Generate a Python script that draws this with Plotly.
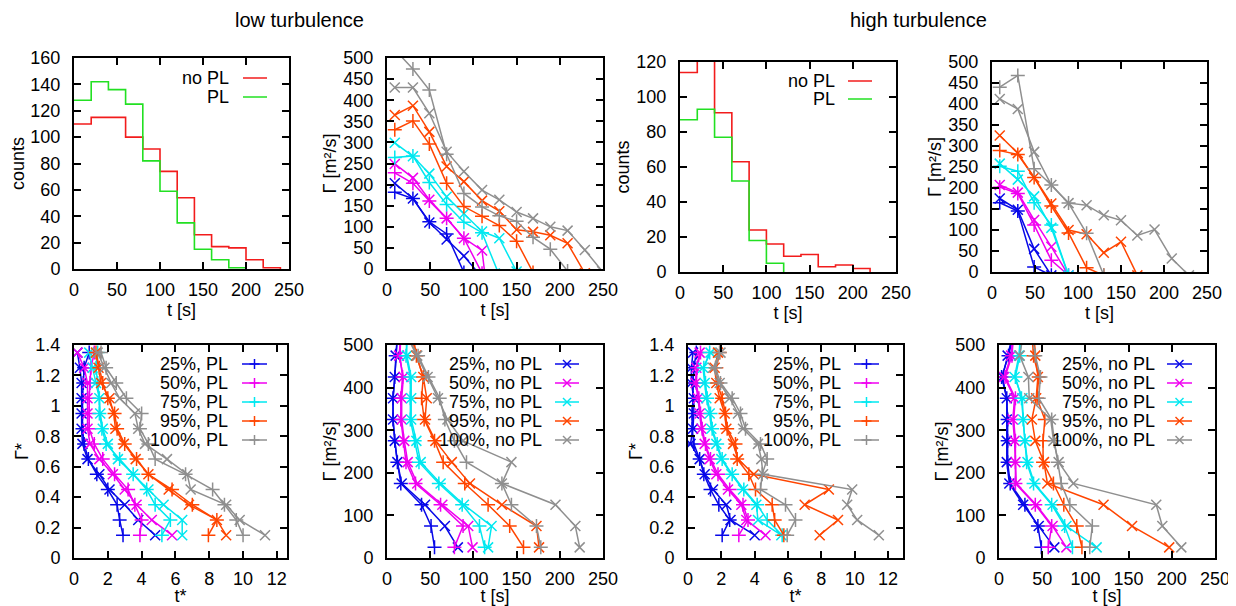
import plotly.graph_objects as go

# ---------------- data ----------------
# histograms (bin edges in s, counts per bin)
EDGES_LOW_NOPL = [0, 20, 40, 60, 80, 100, 120, 140, 160, 180, 200, 220, 240]
COUNTS_LOW_NOPL = [110, 115, 115, 100, 91, 74, 54, 26, 17, 16, 7, 1]
EDGES_LOW_PL = [0, 20, 40, 60, 80, 100, 120, 140, 160, 180, 200]
COUNTS_LOW_PL = [128, 142, 136, 125, 82, 59, 35, 15, 7, 1]
EDGES_HIGH_NOPL = [0, 20, 40, 60, 80, 100, 120, 140, 160, 180, 200, 220]
COUNTS_HIGH_NOPL = [114, 135, 91, 63, 24, 16, 9, 10, 3, 4, 2]
EDGES_HIGH_PL = [0, 20, 40, 60, 80, 100, 120]
COUNTS_HIGH_PL = [87, 93, 77, 52, 18, 5]

PERCENTILES = ["25%", "50%", "75%", "95%", "100%"]

# time-bin centres (s) for Gamma(t) panels
T_CENTERS = [9, 30, 49, 69, 89, 110, 130, 150, 169, 189, 209, 229, 249]
# Gamma* levels and Gamma levels for the t(Gamma) panels
GSTAR_LEVELS = [0.15, 0.25, 0.35, 0.45, 0.55, 0.65, 0.75, 0.85, 0.95, 1.05, 1.15, 1.25, 1.35]
GAMMA_LEVELS = [25, 75, 125, 175, 225, 275, 325, 375, 425, 475, 525]

# low turbulence: Gamma [m^2/s] vs t
LOW_G_PL_25 = [182, 167, 112, 83, -8]
LOW_G_NOPL_25 = [203, 167, 110, 70, 31, -20]
LOW_G_PL_50 = [228, 203, 161, 120, 73, -10]
LOW_G_NOPL_50 = [249, 216, 164, 120, 73, 44, -300]
LOW_G_PL_75 = [264, 268, 205, 153, 111, 86, -15]
LOW_G_NOPL_75 = [299, 267, 226, 171, 131, 89, 73, -6]
LOW_G_PL_95 = [330, 351, 296, 203, 148, 125, 103, 66, -8]
LOW_G_NOPL_95 = [365, 387, 325, 243, 207, 162, 137, 93, 88, 80, 61, -10]
LOW_G_PL_100 = [520, 474, 424, 272, 179, 147, 126, 113, 75, 47, -5]
LOW_G_NOPL_100 = [430, 430, 369, 278, 231, 187, 164, 135, 120, 100, 91, 45, -5]

# high turbulence: Gamma [m^2/s] vs t
HIGH_G_PL_25 = [165, 145, 12, -8]
HIGH_G_NOPL_25 = [175, 148, 55, -8]
HIGH_G_PL_50 = [202, 187, 112, 28, -8]
HIGH_G_NOPL_50 = [207, 189, 124, 60, -8]
HIGH_G_PL_75 = [252, 240, 165, 112, -8]
HIGH_G_NOPL_75 = [258, 220, 180, 105, -8]
HIGH_G_PL_95 = [289, 280, 225, 157, 93, 10, -8]
HIGH_G_NOPL_95 = [325, 283, 225, 163, 100, 90, 46, 72, -8]
HIGH_G_PL_100 = [440, 468, 246, 207, 164, 92, -8]
HIGH_G_NOPL_100 = [412, 388, 286, 207, 164, 159, 135, 123, 87, 101, 32, -8]

# low turbulence: t* vs Gamma*
LOW_TS_PL_25 = [2.9, 2.7, 2.55, 2.0, 1.35, 0.85, 0.6, 0.5, 0.5, 0.5, 0.55, 0.6, 0.9]
LOW_TS_NOPL_25 = [4.8, 3.8, 3.0, 2.1, 1.5, 0.8, 0.5, 0.45, 0.45, 0.45, 0.45, 0.35, 0.2]
LOW_TS_PL_50 = [3.9, 4.0, 3.6, 3.2, 2.4, 1.7, 1.2, 0.9, 0.9, 0.9, 0.95, 1.0, 1.2]
LOW_TS_NOPL_50 = [5.8, 4.6, 3.7, 3.0, 2.3, 1.5, 0.95, 0.8, 0.8, 0.8, 0.8, 0.6, 0.2]
LOW_TS_PL_75 = [5.2, 5.7, 4.8, 4.3, 3.5, 2.7, 1.9, 1.65, 1.5, 1.5, 1.4, 1.3, 1.4]
LOW_TS_NOPL_75 = [6.4, 6.4, 5.3, 4.4, 3.5, 2.6, 2.0, 1.7, 1.55, 1.5, 1.3, 1.1, 0.9]
LOW_TS_PL_95 = [7.95, 8.45, 7.0, 5.8, 4.4, 3.7, 3.0, 2.55, 2.4, 2.0, 1.7, 1.5, 1.3]
LOW_TS_NOPL_95 = [9.0, 8.45, 6.8, 5.6, 4.4, 3.65, 2.95, 2.45, 2.35, 2.1, 1.6, 1.45, 1.3]
LOW_TS_PL_100 = [10.0, 9.6, 8.9, 8.2, 6.6, 4.8, 4.4, 3.9, 4.0, 3.1, 2.5, 1.9, 1.6]
LOW_TS_NOPL_100 = [11.3, 9.8, 9.0, 6.9, 6.7, 5.5, 4.2, 3.8, 3.6, 2.7, 2.2, 1.8, 1.4]

# low turbulence: t [s] vs Gamma
LOW_T_PL_25 = [55, 51, 40, 16, 12, 9, 7, 7, 9, 10, 12]
LOW_T_NOPL_25 = [82, 67, 44, 17, 12, 9, 7, 7, 9, 10, 12]
LOW_T_PL_50 = [78, 88, 62, 33, 22, 19, 16, 16, 18, 15, 16]
LOW_T_NOPL_50 = [99, 94, 64, 35, 24, 20, 17, 17, 19, 14, 16]
LOW_T_PL_75 = [113, 107, 87, 60, 37, 32, 27, 27, 27, 22, 24]
LOW_T_NOPL_75 = [117, 121, 89, 62, 39, 34, 28, 28, 28, 23, 22]
LOW_T_PL_95 = [158, 142, 117, 90, 65, 55, 43, 40, 42, 34, 28]
LOW_T_NOPL_95 = [176, 173, 133, 96, 75, 56, 44, 46, 42, 34, 30]
LOW_T_PL_100 = [178, 173, 144, 133, 92, 78, 67, 61, 48, 36, 22]
LOW_T_NOPL_100 = [223, 218, 195, 133, 144, 88, 70, 59, 47, 35, 22]

# high turbulence: t* vs Gamma*
HIGH_TS_PL_25 = [2.05, 2.5, 1.85, 1.35, 0.95, 0.7, 0.35, 0.25, 0.25, 0.3, 0.3, 0.35, 0.5]
HIGH_TS_NOPL_25 = [4.0, 2.55, 2.3, 1.5, 1.0, 0.7, 0.15, 0.3, 0.35, 0.35, 0.2, 0.2, 0.3]
HIGH_TS_PL_50 = [3.05, 3.6, 3.3, 2.5, 1.8, 1.35, 1.05, 0.85, 0.75, 0.65, 0.5, 0.55, 0.75]
HIGH_TS_NOPL_50 = [4.65, 3.5, 3.2, 2.4, 1.7, 1.3, 1.0, 0.8, 0.7, 0.6, 0.45, 0.5, 0.7]
HIGH_TS_PL_75 = [5.65, 4.75, 4.15, 3.35, 2.65, 2.05, 1.75, 1.45, 1.35, 1.15, 1.05, 0.95, 1.3]
HIGH_TS_NOPL_75 = [5.6, 4.2, 4.1, 3.3, 2.6, 2.0, 1.7, 1.4, 1.3, 1.1, 1.0, 0.9, 1.35]
HIGH_TS_PL_95 = [5.75, 5.2, 5.05, 4.05, 3.65, 2.95, 2.85, 2.35, 2.25, 2.05, 1.75, 1.7, 1.9]
HIGH_TS_NOPL_95 = [7.9, 9.0, 7.0, 8.45, 3.95, 3.0, 2.7, 2.3, 2.2, 1.9, 1.7, 1.6, 1.8]
HIGH_TS_PL_100 = [5.95, 6.45, 5.85, 4.35, 4.45, 4.75, 4.35, 3.45, 3.15, 2.65, 1.95, 1.65, 1.9]
HIGH_TS_NOPL_100 = [11.45, 10.15, 9.55, 9.85, 4.5, 4.4, 4.2, 3.3, 3.0, 2.5, 1.9, 1.5, 1.95]

# high turbulence: t [s] vs Gamma
HIGH_T_PL_25 = [49, 45, 30, 13, 10, 10, 10, 9, 3, 11, 17]
HIGH_T_NOPL_25 = [64, 46, 28, 12, 9, 9, 9, 9, 4, 10, 16]
HIGH_T_PL_50 = [57, 61, 42, 19, 19, 19, 17, 19, 7, 15, 17]
HIGH_T_NOPL_50 = [78, 62, 43, 20, 19, 18, 16, 18, 6, 14, 16]
HIGH_T_PL_75 = [85, 76, 61, 40, 32, 30, 28, 26, 19, 24, 27]
HIGH_T_NOPL_75 = [113, 78, 62, 41, 33, 30, 28, 27, 18, 23, 25]
HIGH_T_PL_95 = [96, 90, 75, 63, 51, 51, 53, 44, 46, 40, 38]
HIGH_T_NOPL_95 = [197, 154, 121, 56, 52, 42, 38, 43, 45, 42, 40]
HIGH_T_PL_100 = [105, 108, 82, 72, 68, 64, 61, 46, 48, 42, 38]
HIGH_T_NOPL_100 = [211, 189, 182, 86, 69, 63, 60, 35, 34, 24, 28]

# ---------------- style ----------------
COLORS = ["#0808e8", "#f000f0", "#00e8f0", "#ff4500", "#8f8f8f"]
RED = "#f21c1c"
GREEN = "#22e022"
FONT = "Liberation Sans, Arial, sans-serif"
PAGE_MARGIN = 8            # default body margin of the html page
W, H = 1236 - PAGE_MARGIN, 606 - PAGE_MARGIN
TICK_SIZE = 18
TITLE_SIZE = 18
KEY_SIZE = 18


def px(x):
    return (x - PAGE_MARGIN) / W


def py(y):
    return 1 - (y - PAGE_MARGIN) / H


def xd(a, b):
    return [px(a), px(b)]


def yd(top, bottom):
    return [py(bottom), py(top)]


fig = go.Figure()


def axis(domain, rng, dtick, anchor, title, ylike=False):
    return dict(domain=domain, range=rng, dtick=dtick, tick0=0, anchor=anchor,
                showline=True, linecolor="black", linewidth=2, mirror="ticks",
                ticks="inside", ticklen=7, tickwidth=1.5, tickcolor="black",
                showgrid=False, zeroline=False, fixedrange=True, automargin=False,
                ticklabelstandoff=8 if ylike else 3,
                tickfont=dict(size=TICK_SIZE, color="black", family=FONT),
                title=dict(text=title, font=dict(size=TITLE_SIZE, color="black", family=FONT),
                           standoff=2 if ylike else 0))


def step_trace(edges, counts, color, name, xa, ya):
    fig.add_trace(go.Scatter(x=edges, y=list(counts) + [0], mode="lines",
                             line=dict(color=color, width=1.6, shape="hv"),
                             name=name, xaxis=xa, yaxis=ya, showlegend=False))


def series(xv, yv, color, symbol, name, xa, ya):
    fig.add_trace(go.Scatter(x=xv, y=yv, mode="lines+markers",
                             line=dict(color=color, width=1.5),
                             marker=dict(symbol=symbol, size=10, color=color,
                                         line=dict(color=color, width=1.5)),
                             name=name, xaxis=xa, yaxis=ya, showlegend=False))


# panel 1 / 3 : histograms
step_trace(EDGES_LOW_NOPL, COUNTS_LOW_NOPL, RED, "no PL", "x", "y")
step_trace(EDGES_LOW_PL, COUNTS_LOW_PL, GREEN, "PL", "x", "y")
step_trace(EDGES_HIGH_NOPL, COUNTS_HIGH_NOPL, RED, "no PL", "x3", "y3")
step_trace(EDGES_HIGH_PL, COUNTS_HIGH_PL, GREEN, "PL", "x3", "y3")

LOW_G_PL = [LOW_G_PL_25, LOW_G_PL_50, LOW_G_PL_75, LOW_G_PL_95, LOW_G_PL_100]
LOW_G_NOPL = [LOW_G_NOPL_25, LOW_G_NOPL_50, LOW_G_NOPL_75, LOW_G_NOPL_95, LOW_G_NOPL_100]
HIGH_G_PL = [HIGH_G_PL_25, HIGH_G_PL_50, HIGH_G_PL_75, HIGH_G_PL_95, HIGH_G_PL_100]
HIGH_G_NOPL = [HIGH_G_NOPL_25, HIGH_G_NOPL_50, HIGH_G_NOPL_75, HIGH_G_NOPL_95, HIGH_G_NOPL_100]
LOW_TS_PL = [LOW_TS_PL_25, LOW_TS_PL_50, LOW_TS_PL_75, LOW_TS_PL_95, LOW_TS_PL_100]
LOW_TS_NOPL = [LOW_TS_NOPL_25, LOW_TS_NOPL_50, LOW_TS_NOPL_75, LOW_TS_NOPL_95, LOW_TS_NOPL_100]
HIGH_TS_PL = [HIGH_TS_PL_25, HIGH_TS_PL_50, HIGH_TS_PL_75, HIGH_TS_PL_95, HIGH_TS_PL_100]
HIGH_TS_NOPL = [HIGH_TS_NOPL_25, HIGH_TS_NOPL_50, HIGH_TS_NOPL_75, HIGH_TS_NOPL_95, HIGH_TS_NOPL_100]
LOW_T_PL = [LOW_T_PL_25, LOW_T_PL_50, LOW_T_PL_75, LOW_T_PL_95, LOW_T_PL_100]
LOW_T_NOPL = [LOW_T_NOPL_25, LOW_T_NOPL_50, LOW_T_NOPL_75, LOW_T_NOPL_95, LOW_T_NOPL_100]
HIGH_T_PL = [HIGH_T_PL_25, HIGH_T_PL_50, HIGH_T_PL_75, HIGH_T_PL_95, HIGH_T_PL_100]
HIGH_T_NOPL = [HIGH_T_NOPL_25, HIGH_T_NOPL_50, HIGH_T_NOPL_75, HIGH_T_NOPL_95, HIGH_T_NOPL_100]

for i, p in enumerate(PERCENTILES):
    c = COLORS[i]
    # Gamma vs t (top row)
    series(T_CENTERS[:len(LOW_G_PL[i])], LOW_G_PL[i], c, "cross-thin", f"{p}, PL", "x2", "y2")
    series(T_CENTERS[:len(LOW_G_NOPL[i])], LOW_G_NOPL[i], c, "x-thin", f"{p}, no PL", "x2", "y2")
    series(T_CENTERS[:len(HIGH_G_PL[i])], HIGH_G_PL[i], c, "cross-thin", f"{p}, PL", "x4", "y4")
    series(T_CENTERS[:len(HIGH_G_NOPL[i])], HIGH_G_NOPL[i], c, "x-thin", f"{p}, no PL", "x4", "y4")
    # Gamma* vs t* and Gamma vs t (bottom row)
    series(LOW_TS_PL[i], GSTAR_LEVELS, c, "cross-thin", f"{p}, PL", "x5", "y5")
    series(LOW_TS_NOPL[i], GSTAR_LEVELS, c, "x-thin", f"{p}, no PL", "x5", "y5")
    series(LOW_T_PL[i], GAMMA_LEVELS, c, "cross-thin", f"{p}, PL", "x6", "y6")
    series(LOW_T_NOPL[i], GAMMA_LEVELS, c, "x-thin", f"{p}, no PL", "x6", "y6")
    series(HIGH_TS_PL[i], GSTAR_LEVELS, c, "cross-thin", f"{p}, PL", "x7", "y7")
    series(HIGH_TS_NOPL[i], GSTAR_LEVELS, c, "x-thin", f"{p}, no PL", "x7", "y7")
    series(HIGH_T_PL[i], GAMMA_LEVELS, c, "cross-thin", f"{p}, PL", "x8", "y8")
    series(HIGH_T_NOPL[i], GAMMA_LEVELS, c, "x-thin", f"{p}, no PL", "x8", "y8")

GUNIT = "Γ [m²/s]"
TS = "t [s]"

layout = dict(
    width=W, height=H, margin=dict(l=0, r=0, t=0, b=0),
    paper_bgcolor="white", plot_bgcolor="white", showlegend=False,
    font=dict(family=FONT, color="black", size=TICK_SIZE),
    xaxis=axis(xd(74, 289), [0, 250], 50, "y", TS),
    yaxis=axis(yd(58, 269), [0, 160], 20, "x", "counts", True),
    xaxis2=axis(xd(387, 603), [0, 250], 50, "y2", TS),
    yaxis2=axis(yd(58, 269), [0, 500], 50, "x2", GUNIT, True),
    xaxis3=axis(xd(680, 896), [0, 250], 50, "y3", TS),
    yaxis3=axis(yd(62, 272), [0, 120], 20, "x3", "counts", True),
    xaxis4=axis(xd(992, 1207), [0, 250], 50, "y4", TS),
    yaxis4=axis(yd(62, 272), [0, 500], 50, "x4", GUNIT, True),
    xaxis5=axis(xd(74, 287), [0, 12.6], 2, "y5", "t*"),
    yaxis5=axis(yd(345, 558), [0, 1.4], 0.2, "x5", "Γ*", True),
    xaxis6=axis(xd(387, 603), [0, 250], 50, "y6", TS),
    yaxis6=axis(yd(345, 558), [0, 500], 100, "x6", GUNIT, True),
    xaxis7=axis(xd(688, 903), [0, 12.9], 2, "y7", "t*"),
    yaxis7=axis(yd(345, 558), [0, 1.4], 0.2, "x7", "Γ*", True),
    xaxis8=axis(xd(999, 1215), [0, 250], 50, "y8", TS),
    yaxis8=axis(yd(345, 558), [0, 500], 100, "x8", GUNIT, True),
)

# ---------------- keys (gnuplot style: text right-aligned, sample on its right) ----------------
annotations = [
    dict(text="low turbulence", x=px(299), y=py(20), xref="paper", yref="paper",
         showarrow=False, xanchor="center", yanchor="middle",
         font=dict(size=20, family=FONT, color="black")),
    dict(text="high turbulence", x=px(918), y=py(20), xref="paper", yref="paper",
         showarrow=False, xanchor="center", yanchor="middle",
         font=dict(size=20, family=FONT, color="black")),
]
shapes = []


def pline(x0, y0, x1, y1, color, width=1.5):
    shapes.append(dict(type="line", xref="paper", yref="paper",
                       x0=px(x0), x1=px(x1), y0=py(y0), y1=py(y1),
                       line=dict(color=color, width=width)))


def key(text_right, sample_x0, sample_x1, rows, labels, colors, symbol):
    for yrow, lab, col in zip(rows, labels, colors):
        annotations.append(dict(text=lab, x=px(text_right), y=py(yrow),
                                xref="paper", yref="paper", showarrow=False,
                                xanchor="right", yanchor="middle",
                                font=dict(size=KEY_SIZE, family=FONT, color="black")))
        pline(sample_x0, yrow, sample_x1, yrow, col)
        cx = (sample_x0 + sample_x1) / 2
        if symbol == "+":
            pline(cx - 5, yrow, cx + 5, yrow, col)
            pline(cx, yrow - 5, cx, yrow + 5, col)
        elif symbol == "x":
            pline(cx - 4, yrow - 4, cx + 4, yrow + 4, col)
            pline(cx - 4, yrow + 4, cx + 4, yrow - 4, col)


HIST_LABELS = ["no PL", "PL"]
PL_LABELS = [f"{p}, PL" for p in PERCENTILES]
NOPL_LABELS = [f"{p}, no PL" for p in PERCENTILES]
ROWS_BOTTOM = [364, 383, 402, 421, 440]

key(231, 243, 267, [78, 97], HIST_LABELS, [RED, GREEN], None)
key(837, 848, 872, [81, 99], HIST_LABELS, [RED, GREEN], None)
key(230, 242, 267, ROWS_BOTTOM, PL_LABELS, COLORS, "+")
key(544, 555, 579, ROWS_BOTTOM, NOPL_LABELS, COLORS, "x")
key(843, 854, 879, ROWS_BOTTOM, PL_LABELS, COLORS, "+")
key(1157, 1167, 1192, ROWS_BOTTOM, NOPL_LABELS, COLORS, "x")

layout["annotations"] = annotations
layout["shapes"] = shapes

fig.update_layout(**layout)
fig.write_html("out.html")
